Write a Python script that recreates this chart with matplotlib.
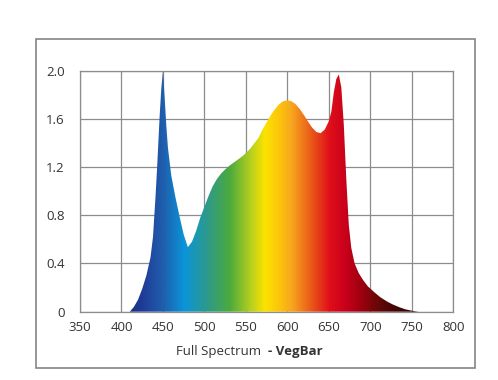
import numpy as np
import matplotlib
matplotlib.use("Agg")
import matplotlib.pyplot as plt
from matplotlib.colors import LinearSegmentedColormap
from matplotlib.patches import Rectangle

plt.rcParams["font.family"] = ["Open Sans", "DejaVu Sans"]

# spectrum (wavelength nm, relative intensity)
wavelength = [410, 415, 420, 425, 430, 435, 438, 441, 443, 446, 448, 450, 452, 454, 456, 460, 465, 470,
              475, 480, 485, 490, 495, 500, 505, 510, 515, 520, 525, 530, 535, 540, 545,
              550, 555, 560, 565, 570, 575, 580, 585, 590, 595, 600, 605, 610, 615, 620,
              625, 630, 635, 640, 645, 650, 653, 656, 659, 662, 665, 668, 671, 674, 677,
              681, 686, 691, 697, 705, 712, 720, 727, 735, 742, 750, 758]
intensity = [0.0, 0.04, 0.10, 0.19, 0.30, 0.45, 0.62, 0.95, 1.20, 1.62, 1.85, 2.0, 1.78, 1.55, 1.36, 1.13, 0.95, 0.79,
             0.64, 0.535, 0.58, 0.67, 0.78, 0.87, 0.96, 1.04, 1.10, 1.145, 1.18, 1.21, 1.235, 1.26, 1.285,
             1.315, 1.35, 1.395, 1.44, 1.51, 1.57, 1.63, 1.68, 1.72, 1.745, 1.752, 1.745, 1.72, 1.68, 1.63,
             1.575, 1.525, 1.49, 1.48, 1.51, 1.58, 1.66, 1.82, 1.93, 1.967, 1.86, 1.55, 1.10, 0.72, 0.53,
             0.40, 0.32, 0.265, 0.21, 0.16, 0.12, 0.085, 0.06, 0.037, 0.02, 0.008, 0.0]

xticks = [350, 400, 450, 500, 550, 600, 650, 700, 750, 800]
yticks = [0, 0.4, 0.8, 1.2, 1.6, 2.0]
ytick_labels = ["0", "0.4", "0.8", "1.2", "1.6", "2.0"]

# colour stops of the rainbow fill
stop_nm = [410, 425, 450, 475, 503, 530, 555, 572, 590, 605, 628, 650, 670, 688, 705, 725, 760]
stop_col = ["#1c2f85", "#1f3d96", "#1f5fae", "#0b95d9", "#2e9a8a", "#4caa3c", "#b5cf20", "#fbe300",
            "#fcc40c", "#f7a51e", "#ea5a18", "#e0101a", "#c8001a", "#a0000f", "#700808", "#4a0606",
            "#2a0303"]

fig = plt.figure(figsize=(4.98, 3.80), dpi=100)
fig.patches.append(Rectangle((36 / 498, 1 - 368 / 380), (475 - 36) / 498, (368 - 39) / 380,
                             transform=fig.transFigure, fill=False, edgecolor="#858585", lw=1.2))

ax = fig.add_axes([80 / 498, 1 - 311.7 / 380, (453.3 - 80) / 498, (311.7 - 70.5) / 380])

cmap = LinearSegmentedColormap.from_list(
    "spec", [((n - stop_nm[0]) / (stop_nm[-1] - stop_nm[0]), c) for n, c in zip(stop_nm, stop_col)])
grad = np.linspace(0, 1, 600).reshape(1, -1)
poly = ax.fill_between(wavelength, intensity, 0, facecolor="none", edgecolor="none")
im = ax.imshow(grad, cmap=cmap, aspect="auto", extent=[stop_nm[0], stop_nm[-1], 0, 2.0],
               origin="lower", zorder=2)
im.set_clip_path(poly.get_paths()[0], transform=ax.transData)

ax.set_xlim(350, 800)
ax.set_ylim(0, 2.0)
ax.set_xticks(xticks)
ax.set_yticks(yticks)
ax.set_yticklabels(ytick_labels)
ax.grid(True, color="#8c8c8c", lw=0.9)
ax.set_axisbelow(True)
ax.tick_params(length=0, labelsize=9.5, labelcolor="#333333")
ax.tick_params(axis="x", pad=7)
ax.tick_params(axis="y", pad=11)
for s in ax.spines.values():
    s.set_color("#8c8c8c")
    s.set_linewidth(0.9)

fig.text(261 / 498, 1 - 351 / 380, "Full Spectrum", ha="right", va="center", fontsize=9.5, color="#333333")
fig.text(268 / 498, 1 - 351 / 380, "- VegBar", ha="left", va="center", fontsize=9.5,
         fontweight="bold", color="#333333")

fig.savefig("out.png", dpi=100)
